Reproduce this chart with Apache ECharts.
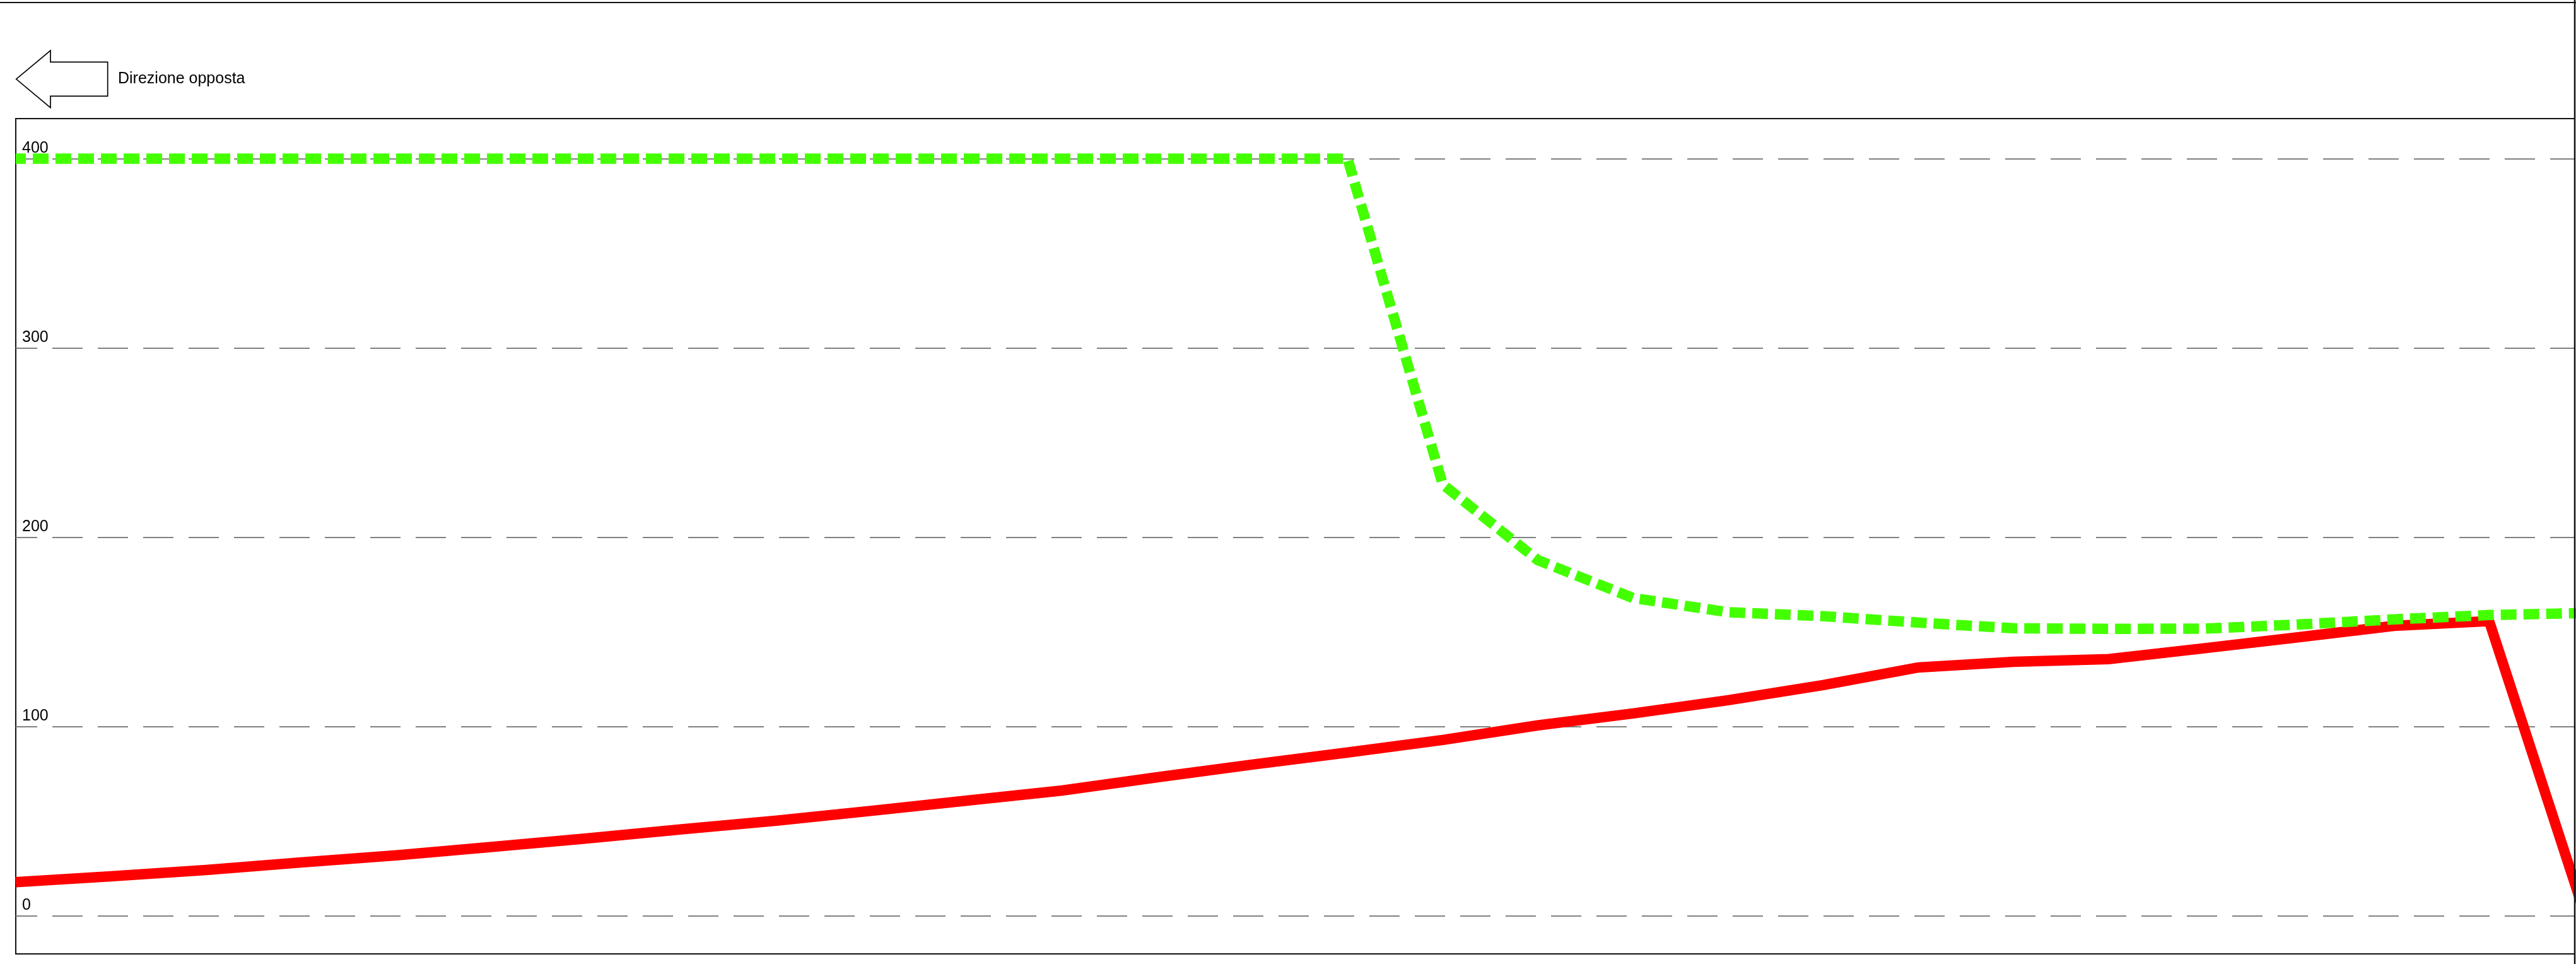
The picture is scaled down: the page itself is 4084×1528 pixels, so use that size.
<!DOCTYPE html>
<html>
<head>
<meta charset="utf-8">
<script src="https://cdn.jsdelivr.net/npm/echarts@6/dist/echarts.min.js"></script>
<style>
html,body{margin:0;padding:0;background:#fff;}
#chart{width:4084px;height:1528px;}
</style>
</head>
<body>
<div id="chart"></div>
<script>
// Data (x = station index along the route)
var xIndex = [0,1,2,3,4,5,6,7,8,9,10,11,12,13,14,15,16,17,18,19,20,21,22,23,24,25,26,27];
var redValues = [17.9,21,24.3,28.3,32.1,36.5,41,45.8,50.4,55.6,61,66.3,73.3,80,86.4,93,100.7,107,114,122,131.3,134.3,135.7,141.4,147.3,153.3,155.8,2];
var greenValues = [400,400,400,400,400,400,400,400,400,400,400,400,400,400,400,228,188,168,160.5,158.4,155,152,151.7,151.8,154,156.7,159,160];
var titleText = 'Direzione opposta';

function pairs(xs, ys){ return xs.map(function(x,i){ return [x, ys[i]]; }); }

var chart = echarts.init(document.getElementById('chart'), null, {renderer:'canvas', devicePixelRatio:1});
var FONT = '"Liberation Sans", Arial, Helvetica, sans-serif';

chart.setOption({
  animation: false,
  backgroundColor: '#ffffff',
  grid: {
    left: 25, top: 188, right: 2, bottom: 16,
    show: true, borderColor: '#111111', borderWidth: 2, backgroundColor: 'transparent',
    containLabel: false, outerBoundsMode: 'none'
  },
  xAxis: {
    type: 'value', min: 0, max: 26.9,
    show: false,
    splitLine: {show: false}
  },
  yAxis: {
    type: 'value', min: -20, max: 421.2,
    minInterval: 100, maxInterval: 100,
    axisLine: {show: false},
    axisTick: {show: false},
    axisLabel: {
      inside: true, margin: 10, color: '#000', fontSize: 25, fontFamily: FONT,
      showMinLabel: false, showMaxLabel: false,
      verticalAlign: 'bottom', lineHeight: 34
    },
    splitLine: {
      show: true, showMinLine: false, showMaxLine: false,
      lineStyle: {color: '#808080', width: 2, type: [48, 24], dashOffset: 14}
    }
  },
  series: [
    {
      type: 'line', data: pairs(xIndex, redValues), symbol: 'none',
      lineStyle: {color: '#ff0000', width: 16.5, cap: 'butt', join: 'miter'},
      z: 2
    },
    {
      type: 'line', data: pairs(xIndex, greenValues), symbol: 'none',
      lineStyle: {color: '#44ff00', width: 16.5, type: [25, 11], dashOffset: 9, cap: 'butt', join: 'miter'},
      z: 3
    }
  ],
  graphic: [
    {type: 'line', shape: {x1: 0, y1: 4, x2: 4084, y2: 4}, style: {stroke: '#111111', lineWidth: 2.2}, z: 10},
    {type: 'line', shape: {x1: 4082, y1: 0, x2: 4082, y2: 1528}, style: {stroke: '#111111', lineWidth: 2.5}, z: 10},
    {type: 'polygon', shape: {points: [[25.7,125.3],[80,80],[80,98.3],[170.7,98.3],[170.7,152.3],[80,152.3],[80,170.7]]},
      style: {fill: '#ffffff', stroke: '#000', lineWidth: 1.7}, z: 10},
    {type: 'text', x: 187, y: 125.3, style: {text: titleText, fill: '#000', font: '25px ' + FONT, textVerticalAlign: 'middle', textAlign: 'left'}, z: 10}
  ]
});
</script>
</body>
</html>
